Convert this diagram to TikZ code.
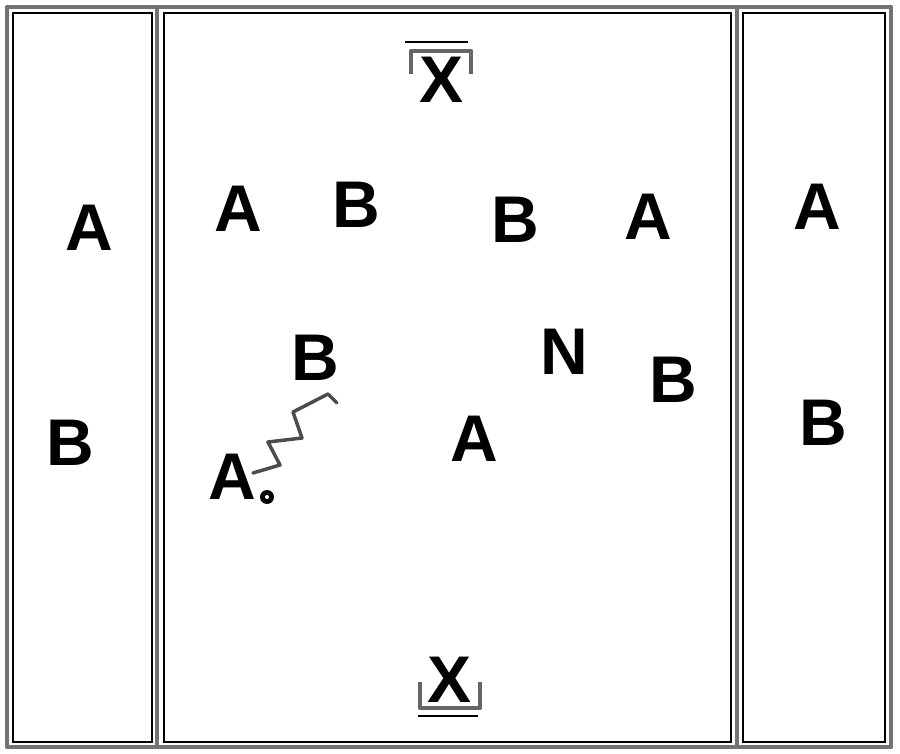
\documentclass[tikz,border=0pt]{standalone}
\usepackage{fontspec}
\setmainfont{Liberation Sans}
\begin{document}
\begin{tikzpicture}[x=1pt,y=-1pt,
  lett/.style={font=\fontsize{66}{70}\selectfont\bfseries, inner sep=0pt, anchor=center},
  frame/.style={draw=black!55, line width=4.5pt, line join=round},
  inner/.style={draw=black, line width=1.2pt},
  goal/.style={draw=black!60, line width=4.5pt, line join=round},
  goalline/.style={draw=black, line width=1.2pt},
  zig/.style={draw=black!70, line width=3.5pt, line join=round, line cap=round}]
\useasboundingbox (0,0) rectangle (900,754);
% field
\draw[frame] (7,7) rectangle (891,747);
\draw[frame] (157,7) -- (157,747);
\draw[frame] (737,7) -- (737,747);
\draw[inner] (13,13) rectangle (152,742);
\draw[inner] (164,13) rectangle (731,742);
\draw[inner] (743,13) rectangle (885,742);
% top goal
\draw[goal] (411,74) -- (411,51) -- (471,51) -- (471,74);
\draw[goalline] (405,42) -- (468,42);
% bottom goal
\draw[goal] (420,682) -- (420,708) -- (480,708) -- (480,682);
\draw[goalline] (418,716) -- (478,716);
% letters
\node[lett] (xt) at (442,80) {X};
\node[lett] (xb) at (450,680) {X};
\node[lett] (la) at (89,228) {A};
\node[lett] (lb) at (70,443) {B};
\node[lett] (a1) at (238,209) {A};
\node[lett] (b1) at (356,205) {B};
\node[lett] (b2) at (515,220) {B};
\node[lett] (a2) at (648,217) {A};
\node[lett] (b3) at (315,358) {B};
\node[lett] (n1) at (564,352) {N};
\node[lett] (b4) at (673,380) {B};
\node[lett] (a3) at (474,439) {A};
\node[lett] (a4) at (232,477) {A};
\node[lett] (ra) at (817,207) {A};
\node[lett] (rb) at (823,423) {B};
% ball
\node[circle, fill=black, minimum size=14pt, inner sep=0pt] (ball) at (267,497) {};
\fill[white] (ball.center) circle (2pt);
% dribble zigzag
\coordinate (z0) at (253,473);
\coordinate (z6) at (337,403);
\draw[zig] (z0) -- (280,465) -- (268,442) -- (302,438) -- (293,412) -- (328,394) -- (z6);
\end{tikzpicture}
\end{document}
